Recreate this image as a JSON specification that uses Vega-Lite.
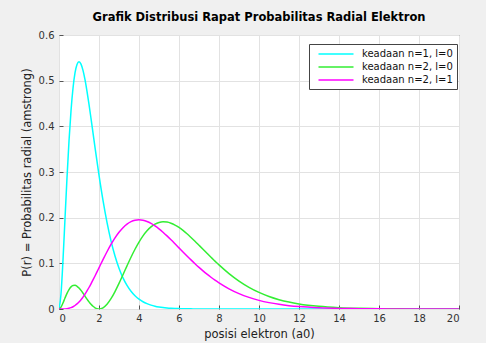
{
  "$schema": "https://vega.github.io/schema/vega-lite/v6.json",
  "autosize": "none",
  "width": 400,
  "height": 274,
  "padding": {"left": 59, "top": 35, "right": 27, "bottom": 34},
  "background": "#f0f0f0",
  "title": {"text": "Grafik Distribusi Rapat Probabilitas Radial Elektron", "font": "DejaVu Sans", "fontSize": 11.5, "fontWeight": "bold", "color": "#000000", "offset": 7, "anchor": "middle"},
  "config": {
    "view": {"stroke": "#555555", "strokeWidth": 1, "fill": "#ffffff"},
    "axis": {"labelFont": "DejaVu Sans", "labelFontSize": 10, "labelColor": "#333333", "titleFont": "DejaVu Sans", "titleFontSize": 11.5, "titleFontWeight": "normal", "titleColor": "#222222", "gridColor": "#e2e2e2", "gridWidth": 1, "domain": false, "tickColor": "#555555", "tickSize": -4}
  },
  "data": {"values": [
    {"r": 0, "a": 0, "b": 0, "c": 0},
    {"r": 0.1, "a": 0.03275, "b": 0.00408, "c": 0.000004},
    {"r": 0.2, "a": 0.10725, "b": 0.01326, "c": 0.000055},
    {"r": 0.3, "a": 0.19757, "b": 0.02409, "c": 0.00025},
    {"r": 0.4, "a": 0.28757, "b": 0.03432, "c": 0.000715},
    {"r": 0.5, "a": 0.36788, "b": 0.04265, "c": 0.00158},
    {"r": 0.6, "a": 0.43372, "b": 0.04841, "c": 0.00296},
    {"r": 0.7, "a": 0.48333, "b": 0.0514, "c": 0.00497},
    {"r": 0.8, "a": 0.51686, "b": 0.05176, "c": 0.00767},
    {"r": 0.9, "a": 0.53557, "b": 0.04981, "c": 0.01112},
    {"r": 1.0, "a": 0.54134, "b": 0.04599, "c": 0.01533},
    {"r": 1.1, "a": 0.53629, "b": 0.04078, "c": 0.02031},
    {"r": 1.2, "a": 0.52254, "b": 0.0347, "c": 0.02602},
    {"r": 1.3, "a": 0.50209, "b": 0.02821, "c": 0.03243},
    {"r": 1.4, "a": 0.47675, "b": 0.02175, "c": 0.03947},
    {"r": 1.5, "a": 0.44808, "b": 0.01569, "c": 0.04707},
    {"r": 1.6, "a": 0.4174, "b": 0.01034, "c": 0.05513},
    {"r": 1.7, "a": 0.38579, "b": 0.00594, "c": 0.06358},
    {"r": 1.8, "a": 0.35412, "b": 0.00268, "c": 0.0723},
    {"r": 1.9, "a": 0.32304, "b": 0.00068, "c": 0.08122},
    {"r": 2.0, "a": 0.29305, "b": 0, "c": 0.09022},
    {"r": 2.2, "a": 0.23768, "b": 0.00268, "c": 0.10815},
    {"r": 2.4, "a": 0.18962, "b": 0.01045, "c": 0.12541},
    {"r": 2.6, "a": 0.14918, "b": 0.02259, "c": 0.14142},
    {"r": 2.8, "a": 0.11597, "b": 0.03814, "c": 0.15574},
    {"r": 3.0, "a": 0.08924, "b": 0.05601, "c": 0.16803},
    {"r": 3.2, "a": 0.06808, "b": 0.07513, "c": 0.17809},
    {"r": 3.4, "a": 0.05151, "b": 0.09452, "c": 0.18582},
    {"r": 3.6, "a": 0.03872, "b": 0.11332, "c": 0.19122},
    {"r": 3.8, "a": 0.02888, "b": 0.13083, "c": 0.19436},
    {"r": 4.0, "a": 0.02144, "b": 0.14653, "c": 0.19537},
    {"r": 4.2, "a": 0.01587, "b": 0.16004, "c": 0.19443},
    {"r": 4.4, "a": 0.01167, "b": 0.17113, "c": 0.19173},
    {"r": 4.6, "a": 0.00855, "b": 0.17973, "c": 0.18753},
    {"r": 4.8, "a": 0.00624, "b": 0.18583, "c": 0.18203},
    {"r": 5.0, "a": 0.00454, "b": 0.18951, "c": 0.17547},
    {"r": 5.2, "a": 0.00329, "b": 0.19095, "c": 0.16808},
    {"r": 5.4, "a": 0.00238, "b": 0.19033, "c": 0.16003},
    {"r": 5.6, "a": 0.00172, "b": 0.18787, "c": 0.15154},
    {"r": 5.8, "a": 0.00124, "b": 0.18386, "c": 0.14277},
    {"r": 6.0, "a": 0.00088, "b": 0.17849, "c": 0.13387},
    {"r": 6.2, "a": 0.00063, "b": 0.17198, "c": 0.12495},
    {"r": 6.4, "a": 0.00045, "b": 0.16474, "c": 0.11615},
    {"r": 6.6, "a": 0.00032, "b": 0.15669, "c": 0.10756},
    {"r": 6.8, "a": 0.00023, "b": 0.14835, "c": 0.09923},
    {"r": 7.0, "a": 0.00016, "b": 0.13963, "c": 0.09123},
    {"r": 7.2, "a": 0.00012, "b": 0.13089, "c": 0.0836},
    {"r": 7.4, "a": 0.00008, "b": 0.12196, "c": 0.07637},
    {"r": 7.6, "a": 0.00006, "b": 0.11321, "c": 0.06957},
    {"r": 7.8, "a": 0.00004, "b": 0.10489, "c": 0.06319},
    {"r": 8.0, "a": 0.00003, "b": 0.09661, "c": 0.05725},
    {"r": 8.5, "a": 0.00001, "b": 0.07764, "c": 0.04426},
    {"r": 9.0, "a": 0.000005, "b": 0.06122, "c": 0.03374},
    {"r": 9.5, "a": 0.000002, "b": 0.0475, "c": 0.0254},
    {"r": 10.0, "a": 0, "b": 0.03632, "c": 0.01892},
    {"r": 10.5, "a": 0, "b": 0.02742, "c": 0.01395},
    {"r": 11.0, "a": 0, "b": 0.02046, "c": 0.01019},
    {"r": 11.5, "a": 0, "b": 0.01511, "c": 0.00738},
    {"r": 12.0, "a": 0, "b": 0.01106, "c": 0.00531},
    {"r": 13.0, "a": 0, "b": 0.00578, "c": 0.00269},
    {"r": 14.0, "a": 0, "b": 0.00293, "c": 0.00133},
    {"r": 15.0, "a": 0, "b": 0.00145, "c": 0.00065},
    {"r": 16.0, "a": 0, "b": 0.00071, "c": 0.00031},
    {"r": 17.0, "a": 0, "b": 0.00034, "c": 0.00014},
    {"r": 18.0, "a": 0, "b": 0.00016, "c": 0.00007},
    {"r": 19.0, "a": 0, "b": 0.00007, "c": 0.00003},
    {"r": 20.0, "a": 0, "b": 0.00003, "c": 0.00001}
  ]},
  "transform": [
    {"fold": ["a", "b", "c"], "as": ["k", "p"]},
    {"calculate": "datum.k === 'a' ? 'keadaan n=1, l=0' : datum.k === 'b' ? 'keadaan n=2, l=0' : 'keadaan n=2, l=1'", "as": "keadaan"}
  ],
  "mark": {"type": "line", "strokeWidth": 1.5, "interpolate": "monotone", "clip": true},
  "encoding": {
    "x": {"field": "r", "type": "quantitative", "scale": {"domain": [0, 20], "nice": false}, "axis": {"values": [0, 2, 4, 6, 8, 10, 12, 14, 16, 18, 20], "title": "posisi elektron (a0)", "labelPadding": 8, "titlePadding": 5}},
    "y": {"field": "p", "type": "quantitative", "scale": {"domain": [0, 0.6], "nice": false}, "axis": {"values": [0, 0.1, 0.2, 0.3, 0.4, 0.5, 0.6], "format": "~g", "title": "P(r) = Probabilitas radial (amstrong)", "labelPadding": 9, "titlePadding": 6}},
    "color": {"field": "keadaan", "type": "nominal", "scale": {"domain": ["keadaan n=1, l=0", "keadaan n=2, l=0", "keadaan n=2, l=1"], "range": ["#00ffff", "#33ee33", "#ff00ff"]},
      "legend": {"title": null, "orient": "none", "legendX": 250, "legendY": 9, "symbolType": "M-3.5,0H3.5", "symbolSize": 100, "symbolStrokeWidth": 1.5, "symbolOffset": 17, "labelOffset": 20, "labelFont": "DejaVu Sans", "labelFontSize": 10, "labelColor": "#111111", "fillColor": "#ffffff", "strokeColor": "#444444", "padding": 4, "rowPadding": 2}}
  }
}
